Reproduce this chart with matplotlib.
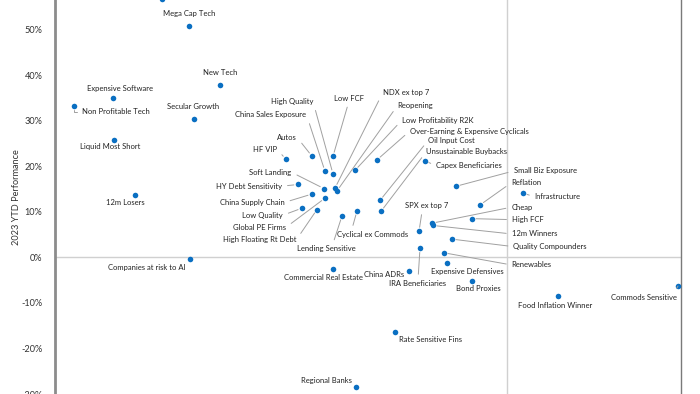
import matplotlib
matplotlib.use("Agg")
import matplotlib.pyplot as plt
from matplotlib.ticker import FuncFormatter

plt.rcParams['font.family'] = ['Lato', 'DejaVu Sans']

# ---- data ----
categories = [
    "Mega Cap Tech", "New Tech", "Expensive Software", "Non Profitable Tech", "Secular Growth",
    "Liquid Most Short", "12m Losers", "Companies at risk to AI", "Commercial Real Estate",
    "Regional Banks", "Rate Sensitive Fins", "HY Debt Sensitivity", "China Supply Chain",
    "Low Quality", "Global PE Firms", "High Floating Rt Debt", "Lending Sensitive",
    "Cyclical ex Commods", "Soft Landing", "NDX ex top 7", "Reopening", "HF VIP", "Autos",
    "Low FCF", "Over-Earning & Expensive Cyclicals", "China Sales Exposure", "High Quality",
    "Low Profitability R2K", "Oil Input Cost", "Unsustainable Buybacks", "Capex Beneficiaries",
    "Small Biz Exposure", "Reflation", "Infrastructure", "Cheap", "12m Winners", "High FCF",
    "Quality Compounders", "SPX ex top 7", "IRA Beneficiaries", "Renewables",
    "Expensive Defensives", "Bond Proxies", "China ADRs", "Food Inflation Winner",
    "Commods Sensitive", "",
]
x_values = [
    -3.18, -2.87, -3.94, -4.33, -3.13,
    -3.93, -3.72, -3.17, -1.74,
    -1.51, -1.12, -2.09, -1.95,
    -2.05, -1.82, -1.90, -1.65,
    -1.50, -1.83, -1.72, -1.70, -2.21, -1.95,
    -1.74, -1.30, -1.82, -1.74,
    -1.52, -1.27, -1.26, -0.82,
    -0.51, -0.27, 0.16, -0.75, -0.74, -0.35,
    -0.55, -0.88, -0.87, -0.63,
    -0.60, -0.35, -0.98, 0.51,
    1.71, -3.45,
]
ytd_perf = [
    50.7, 37.9, 35.0, 33.3, 30.3,
    25.7, 13.7, -0.4, -2.5,
    -28.5, -16.3, 16.0, 13.9,
    10.8, 13.0, 10.5, 9.1,
    10.2, 15.1, 15.2, 14.6, 21.5, 22.2,
    22.2, 21.4, 18.9, 18.3,
    19.1, 12.5, 10.1, 21.2,
    15.6, 11.5, 14.1, 7.5, 7.0, 8.5,
    4.0, 5.7, 2.0, 1.0,
    -1.2, -5.2, -3.1, -8.4,
    -6.3, 56.7,
]
y_ticks = [-30, -20, -10, 0, 10, 20, 30, 40, 50]

# ---- label layout: offset in pixels (dx, dy), ha, va, leader line ----
layout = {
    "Mega Cap Tech": (0, 12.7, "center", "center", None),
    "New Tech": (0, 12.7, "center", "center", None),
    "Expensive Software": (7, 9, "center", "center", None),
    "Non Profitable Tech": (8.3, -6.3, "left", "center", "angle"),
    "Secular Growth": (-0.6, 12.7, "center", "center", None),
    "Liquid Most Short": (-4.2, -6.0, "center", "center", None),
    "12m Losers": (-9.3, -7.3, "center", "center", None),
    "Companies at risk to AI": (-43.5, -8.7, "center", "center", None),
    "Commercial Real Estate": (-9.2, -8.8, "center", "center", None),
    "Regional Banks": (-29.5, 6.7, "center", "center", None),
    "Rate Sensitive Fins": (3.6, -8, "left", "center", None),
    "HY Debt Sensitivity": (-16, -1.7, "right", "center", (1, 0.5)),
    "China Supply Chain": (-27.3, -8.3, "right", "center", (1, 0.5)),
    "Low Quality": (-19, -7, "right", "center", (1, 0.5)),
    "Global PE Firms": (-38.8, -29, "right", "center", (1, 0.5)),
    "High Floating Rt Debt": (-20.6, -30.2, "right", "center", (1, 0.5)),
    "Lending Sensitive": (-15.4, -32.8, "center", "center", (0.6, 1)),
    "Cyclical ex Commods": (15.8, -23.4, "center", "center", (0.2, 1)),
    "Soft Landing": (-32.3, 16.2, "right", "center", (1, 0.5)),
    "NDX ex top 7": (47.7, 95.3, "left", "center", (0, 0.5)),
    "Reopening": (60.6, 85.5, "left", "center", (0, 0.5)),
    "HF VIP": (-8.7, 10, "right", "center", (1, 0.5)),
    "Autos": (-14.8, 18.7, "right", "center", (1, 0.5)),
    "Low FCF": (15.8, 58, "center", "center", (0.5, 0)),
    "Over-Earning & Expensive Cyclicals": (32.7, 28.8, "left", "center", (0, 0.5)),
    "China Sales Exposure": (-18.5, 56.5, "right", "center", (1, 0.5)),
    "High Quality": (-20, 72.5, "right", "center", (1, 0.5)),
    "Low Profitability R2K": (46.7, 50, "left", "center", (0, 0.5)),
    "Oil Input Cost": (48.3, 60.2, "left", "center", (0, 0.5)),
    "Unsustainable Buybacks": (45.2, 59.5, "left", "center", (0, 0.5)),
    "Capex Beneficiaries": (11, -5, "left", "center", (0, 0.5)),
    "Small Biz Exposure": (57.5, 15.3, "left", "center", (0, 0.5)),
    "Reflation": (31, 22, "left", "center", (0, 0.5)),
    "Infrastructure": (11.7, -3.7, "left", "center", (0, 0.5)),
    "Cheap": (79.3, 16, "left", "center", (0, 0.5)),
    "12m Winners": (78.7, -8.5, "left", "center", (0, 0.5)),
    "High FCF": (40, -1, "left", "center", (0, 0.5)),
    "Quality Compounders": (61.4, -7.5, "left", "center", (0, 0.5)),
    "SPX ex top 7": (7.7, 25.7, "center", "center", (0.4, 0)),
    "IRA Beneficiaries": (-2, -35, "center", "center", (0.5, 1)),
    "Renewables": (67.7, -12.2, "left", "center", (0, 0.5)),
    "Expensive Defensives": (20.2, -8.6, "center", "center", None),
    "Bond Proxies": (6.7, -7.7, "center", "center", None),
    "China ADRs": (-5.3, -2.7, "right", "center", None),
    "Food Inflation Winner": (-3, -9.7, "center", "center", None),
    "Commods Sensitive": (-33.9, -11, "center", "center", (0.95, 1)),
}

fig = plt.figure(figsize=(7.0, 3.94), dpi=100)
ax = fig.add_axes([55 / 700, 0.0, (681 - 55) / 700, 1.0])
ax.set_xlim(-4.52, 1.74)
ax.set_ylim(-29.1, 56.5)

ax.axhline(0, color="#d0d0d0", lw=1.0, zorder=1)
ax.axvline(0, color="#d0d0d0", lw=1.0, zorder=1)

ax.scatter(x_values, ytd_perf, s=16, color="#0a6fc2", zorder=3, linewidths=0, clip_on=True)

txt_color = "#222222"
line_color = "#a0a0a0"
fs = 5.5
for name, xv, yv in zip(categories, x_values, ytd_perf):
    if not name:
        continue
    dx, dy, ha, va, leader = layout[name]
    kw = dict(xy=(xv, yv), xytext=(dx, dy), textcoords="offset pixels",
              ha=ha, va=va, fontsize=fs, color=txt_color, zorder=4)
    if leader == "angle":
        kw["arrowprops"] = dict(arrowstyle="-", color=line_color, lw=0.7,
                                connectionstyle="angle,angleA=0,angleB=90,rad=0",
                                relpos=(0, 0.5), shrinkA=2, shrinkB=3)
    elif leader is not None:
        kw["arrowprops"] = dict(arrowstyle="-", color=line_color, lw=0.7,
                                relpos=leader, shrinkA=2, shrinkB=3)
    ax.annotate(name, **kw)

ax.set_yticks(y_ticks)
ax.yaxis.set_major_formatter(FuncFormatter(lambda v, p: f"{v:.0f}%"))
ax.tick_params(axis="y", length=0, pad=9, labelsize=6.6, labelcolor="#333333")
ax.set_xticks([])
fig.text(17 / 700, 0.5, "2023 YTD Performance", rotation=90, ha="center", va="center",
         fontsize=6.6, color="#333333")

ax.spines["left"].set_color("#8c8c8c")
ax.spines["left"].set_linewidth(2.0)
ax.spines["right"].set_color("#7a7a7a")
ax.spines["right"].set_linewidth(1.0)
ax.spines["top"].set_visible(False)
ax.spines["bottom"].set_visible(False)

fig.savefig("out.png", dpi=100)
